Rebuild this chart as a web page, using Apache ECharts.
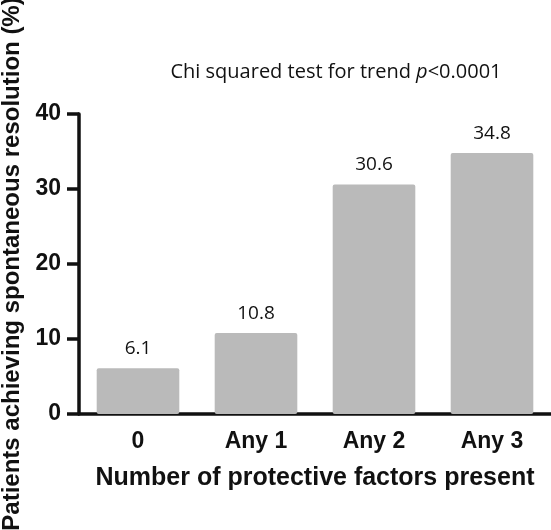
<!DOCTYPE html>
<html>
<head>
<meta charset="utf-8">
<script src="https://cdn.jsdelivr.net/npm/echarts@6/dist/echarts.min.js"></script>
<style>html,body{margin:0;padding:0;background:#fff}#c{width:551px;height:530px}</style>
</head>
<body>
<div id="c"></div>
<script>
const categories = ['0', 'Any 1', 'Any 2', 'Any 3'];
const values = [6.1, 10.8, 30.6, 34.8];
const yTicks = [0, 10, 20, 30, 40];
const titleText = 'Chi squared test for trend ';
const pText = 'p';
const pRest = '<0.0001';
const xName = 'Number of protective factors present';
const yName = 'Patients achieving spontaneous resolution (%)';

const chart = echarts.init(document.getElementById('c'), null, {renderer: 'canvas'});
chart.setOption({
  animation: false,
  backgroundColor: '#ffffff',
  title: {
    text: '{a|' + titleText + '}{p|' + pText + '}{a|' + pRest + '}',
    left: 331, top: 57, textAlign: 'center',
    textStyle: {
      fontWeight: 'normal',
      rich: {
        a: {fontFamily: 'Open Sans', fontSize: 20, fontWeight: 'normal', color: '#111'},
        p: {fontFamily: 'Open Sans', fontSize: 20, fontWeight: 'normal', fontStyle: 'italic', color: '#111'}
      }
    }
  },
  grid: {left: 79, right: 0, top: 114, bottom: 116, containLabel: false, outerBoundsMode: 'none'},
  xAxis: {
    type: 'category',
    data: categories,
    boundaryGap: true,
    axisLine: {lineStyle: {color: '#111', width: 3.5}},
    axisTick: {alignWithLabel: true, length: 12, lineStyle: {color: '#111', width: 3.5}},
    axisLabel: {fontFamily: 'Liberation Sans', fontWeight: 'bold', fontSize: 23, color: '#111', margin: 16},
    name: xName,
    nameLocation: 'middle',
    nameGap: 52,
    nameTextStyle: {fontFamily: 'Liberation Sans', fontWeight: 'bold', fontSize: 25, color: '#111'}
  },
  yAxis: {
    type: 'value',
    min: yTicks[0], max: yTicks[yTicks.length - 1], interval: 10,
    splitLine: {show: false},
    axisLine: {show: true, lineStyle: {color: '#111', width: 3.5}},
    axisTick: {show: true, length: 12, lineStyle: {color: '#111', width: 3.5}},
    axisLabel: {fontFamily: 'Liberation Sans', fontWeight: 'bold', fontSize: 23, color: '#111', margin: 18},
    name: yName,
    nameLocation: 'middle',
    nameRotate: 90,
    nameGap: 50,
    nameTextStyle: {fontFamily: 'Liberation Sans', fontWeight: 'bold', fontSize: 24, color: '#111'}
  },
  series: [{
    type: 'bar',
    data: values,
    barWidth: '70%',
    itemStyle: {color: '#bababa', borderRadius: 2},
    label: {
      show: true, position: 'top', distance: 10,
      fontFamily: 'Open Sans', fontSize: 19, color: '#111',
      formatter: p => p.value.toFixed(1)
    }
  }]
});
</script>
</body>
</html>
